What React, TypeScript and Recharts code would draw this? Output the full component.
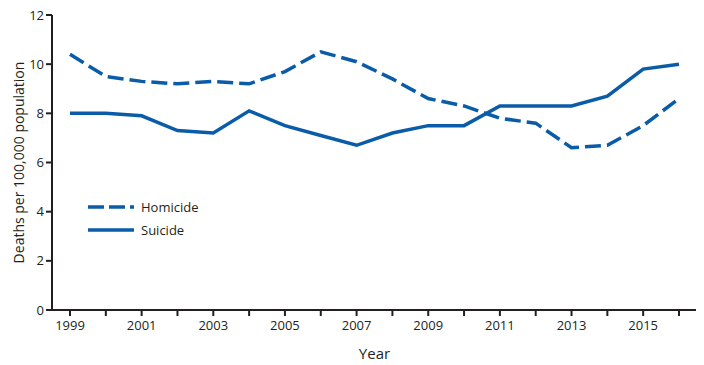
import React from "react";
import { LineChart, Line, XAxis, YAxis, Legend } from "recharts";

const years = [
  1999, 2000, 2001, 2002, 2003, 2004, 2005, 2006, 2007, 2008, 2009, 2010, 2011,
  2012, 2013, 2014, 2015, 2016,
];
const homicide = [
  10.4, 9.5, 9.3, 9.2, 9.3, 9.2, 9.7, 10.5, 10.1, 9.4, 8.6, 8.3, 7.8, 7.6, 6.6,
  6.7, 7.5, 8.6,
];
const suicide = [
  8.0, 8.0, 7.9, 7.3, 7.2, 8.1, 7.5, 7.1, 6.7, 7.2, 7.5, 7.5, 8.3, 8.3, 8.3,
  8.7, 9.8, 10.0,
];
const yTicks = [0, 2, 4, 6, 8, 10, 12];

const data = years.map((year, i) => ({
  year,
  Homicide: homicide[i],
  Suicide: suicide[i],
}));

const BLUE = "#0a5ca8";
const INK = "#231f20";
const FONT = "'Open Sans', sans-serif";

const LegendBox = () => (
  <div style={{ fontFamily: FONT, fontSize: 13, color: INK }}>
    {[
      { name: "Homicide", dash: "16 5" },
      { name: "Suicide", dash: undefined },
    ].map((d) => (
      <div key={d.name} style={{ display: "flex", alignItems: "center", height: 23 }}>
        <svg width={46} height={8} style={{ marginRight: 7 }}>
          <line x1={0} y1={4} x2={46} y2={4} stroke={BLUE} strokeWidth={3.5} strokeDasharray={d.dash} />
        </svg>
        <span>{d.name}</span>
      </div>
    ))}
  </div>
);

export default function App() {
  return (
    <div style={{ marginTop: -4 }}>
      <LineChart
        width={696}
        height={361}
        data={data}
        margin={{ top: 11, right: 7, left: 0, bottom: 0 }}
      >
        <XAxis
          dataKey="year"
          type="number"
          domain={[1999, 2016]}
          ticks={years}
          interval={0}
          tickFormatter={(v: number) => (v % 2 === 1 ? String(v) : "")}
          padding={{ left: 18, right: 18 }}
          height={55}
          stroke={INK}
          strokeWidth={2}
          tickSize={6}
          tickMargin={5}
          tick={{ fill: INK, fontSize: 13, fontFamily: FONT }}
          label={{ value: "Year", position: "insideBottom", offset: 6, fill: INK, fontSize: 15, fontFamily: FONT }}
        />
        <XAxis
          xAxisId="top"
          orientation="top"
          dataKey="year"
          type="number"
          domain={[1999, 2016]}
          height={0}
          tick={false}
          tickLine={false}
          stroke={INK}
          strokeWidth={2}
        />
        <YAxis
          domain={[0, 12]}
          ticks={yTicks}
          interval={0}
          width={44}
          stroke={INK}
          strokeWidth={2}
          tickSize={6}
          tick={{ fill: INK, fontSize: 13, fontFamily: FONT }}
          label={{
            value: "Deaths per 100,000 population",
            angle: -90,
            position: "insideLeft",
            offset: 11,
            style: { textAnchor: "middle" },
            fill: INK,
            fontSize: 14,
            fontFamily: FONT,
          }}
        />
        <YAxis
          yAxisId="right"
          orientation="right"
          domain={[0, 12]}
          width={0}
          tick={false}
          tickLine={false}
          stroke={INK}
          strokeWidth={2}
        />
        <Legend
          layout="horizontal"
          verticalAlign="middle"
          align="center"
          content={<LegendBox />}
          wrapperStyle={{ left: 80, top: 191, width: "auto" }}
        />
        <Line
          type="linear"
          dataKey="Homicide"
          stroke={BLUE}
          strokeWidth={3.5}
          strokeDasharray="16 6"
          dot={false}
          activeDot={false}
          isAnimationActive={false}
        />
        <Line
          type="linear"
          dataKey="Suicide"
          stroke={BLUE}
          strokeWidth={3.5}
          dot={false}
          activeDot={false}
          isAnimationActive={false}
        />
      </LineChart>
    </div>
  );
}
